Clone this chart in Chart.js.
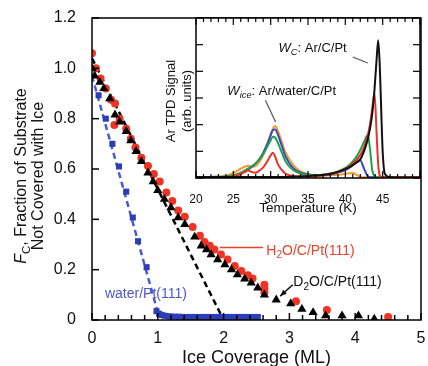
<!DOCTYPE html>
<html>
<head>
<meta charset="utf-8">
<script src="https://cdn.jsdelivr.net/npm/chart.js@4.4.1/dist/chart.umd.min.js"></script>
<style>
  html, body { margin: 0; padding: 0; background: #fff; }
  #wrap { position: relative; width: 428px; height: 366px; }
  #mainChart { position: absolute; left: 0; top: 0; }
  #insetChart { position: absolute; left: 140px; top: 0; }
</style>
</head>
<body>
<div id="wrap">
  <canvas id="mainChart" width="428" height="366"></canvas>
  <canvas id="insetChart" width="288" height="220"></canvas>
</div>
<script>
const FONT = "'Liberation Sans', Arial, sans-serif";

// main plot: fraction of substrate not covered vs ice coverage (ML)
const covH2O = [0, 0.06, 0.13, 0.21, 0.29, 0.35, 0.34, 0.42, 0.52, 0.59, 0.66, 0.75, 0.85, 0.94, 1.03, 1.13, 1.22, 1.31, 1.41, 1.53, 1.64, 1.71, 1.79, 1.86, 1.96, 2.06, 2.17, 2.27, 2.37, 2.44, 2.62, 2.62, 2.62, 3.1, 3.57, 4.5];
const fracH2O = [1.06, 1.0, 0.96, 0.92, 0.875, 0.86, 0.775, 0.8, 0.76, 0.72, 0.685, 0.645, 0.612, 0.58, 0.55, 0.507, 0.473, 0.435, 0.41, 0.37, 0.335, 0.31, 0.295, 0.28, 0.26, 0.24, 0.215, 0.195, 0.178, 0.165, 0.14, 0.125, 0.11, 0.075, 0.04, 0.012];

const covD2O = [0, 0.04, 0.12, 0.18, 0.27, 0.35, 0.42, 0.52, 0.59, 0.67, 0.75, 0.85, 0.93, 1.0, 1.1, 1.2, 1.31, 1.41, 1.56, 1.66, 1.74, 1.81, 1.91, 2.02, 2.12, 2.21, 2.32, 2.42, 2.52, 2.62, 2.8, 3.02, 3.19, 3.36, 3.55, 3.8, 4.05, 4.29];
const fracD2O = [1.0, 0.97, 0.945, 0.92, 0.88, 0.815, 0.787, 0.75, 0.713, 0.67, 0.63, 0.585, 0.55, 0.515, 0.48, 0.447, 0.407, 0.38, 0.33, 0.295, 0.28, 0.26, 0.24, 0.22, 0.2, 0.18, 0.164, 0.148, 0.128, 0.1, 0.08, 0.065, 0.043, 0.03, 0.017, 0.017, 0.017, 0.004];

const covWater = [0.1, 0.21, 0.31, 0.41, 0.52, 0.62, 0.7, 0.83, 0.98, 1.02, 1.06, 1.1, 1.15, 1.2, 1.26, 1.32, 1.38, 1.44, 1.5, 1.56, 1.62, 1.68, 1.74, 1.8, 1.86, 1.92, 1.98, 2.04, 2.1, 2.16, 2.22, 2.28, 2.34, 2.4, 2.46, 2.52];
const fracWater = [0.893, 0.8, 0.7, 0.61, 0.51, 0.407, 0.313, 0.21, 0.035, 0.025, 0.02, 0.017, 0.015, 0.014, 0.013, 0.013, 0.012, 0.012, 0.012, 0.012, 0.012, 0.012, 0.012, 0.012, 0.012, 0.012, 0.012, 0.012, 0.012, 0.012, 0.012, 0.012, 0.012, 0.012, 0.012, 0.012];

// dashed guide lines
const fitD2OX = [0, 2.0];
const fitD2OY = [1.04, 0];
const fitWaterX = [0, 1.0];
const fitWaterY = [0.97, 0.03];

const xTicksMain = [0, 1, 2, 3, 4, 5];

// inset: Ar TPD spectra
const tempK = [20, 22, 24, 25, 26, 26.5, 27, 27.5, 28, 28.5, 29, 29.5, 30, 30.3, 30.6, 31, 31.5, 32, 33, 34, 35, 36, 37, 38, 39, 40, 40.5, 41, 41.5, 42, 42.5, 43, 43.3, 43.6, 43.9, 44.2, 44.4, 44.6, 44.8, 45, 45.3, 46, 48, 50];
const tpdBlack = [0.04, 0.04, 0.04, 0.04, 0.04, 0.04, 0.04, 0.04, 0.04, 0.04, 0.04, 0.04, 0.04, 0.04, 0.04, 0.04, 0.04, 0.04, 0.05, 0.06, 0.07, 0.09, 0.12, 0.16, 0.23, 0.33, 0.4, 0.48, 0.58, 0.7, 1.0, 1.45, 1.85, 2.4, 3.3, 4.5, 5.17, 4.3, 2.6, 1.0, 0.15, 0.03, 0.02, 0.02];
const tpdRed = [0.03, 0.03, 0.04, 0.06, 0.15, 0.22, 0.28, 0.22, 0.2, 0.28, 0.4, 0.6, 0.85, 0.95, 0.8, 0.5, 0.3, 0.16, 0.08, 0.06, 0.06, 0.07, 0.1, 0.15, 0.22, 0.34, 0.43, 0.54, 0.68, 0.86, 1.15, 1.6, 2.0, 2.6, 3.19, 1.6, 0.5, 0.1, 0.04, 0.03, 0.03, 0.03, 0.03, 0.03];
const tpdGreen = [0.03, 0.04, 0.06, 0.1, 0.2, 0.28, 0.36, 0.45, 0.55, 0.7, 0.9, 1.15, 1.42, 1.55, 1.52, 1.3, 0.95, 0.62, 0.3, 0.17, 0.12, 0.1, 0.12, 0.17, 0.25, 0.38, 0.48, 0.62, 0.8, 1.05, 1.35, 1.61, 1.1, 0.3, 0.08, 0.04, 0.03, 0.03, 0.03, 0.03, 0.03, 0.03, 0.03, 0.03];
const tpdBlue = [0.03, 0.03, 0.05, 0.08, 0.16, 0.24, 0.32, 0.42, 0.55, 0.72, 0.95, 1.25, 1.6, 1.8, 1.82, 1.6, 1.2, 0.8, 0.38, 0.2, 0.13, 0.1, 0.1, 0.13, 0.2, 0.3, 0.38, 0.48, 0.6, 0.67, 0.35, 0.06, 0.03, 0.03, 0.03, 0.03, 0.03, 0.03, 0.03, 0.03, 0.03, 0.03, 0.03, 0.03];
const tpdOrange = [0.03, 0.04, 0.08, 0.18, 0.35, 0.42, 0.46, 0.42, 0.45, 0.6, 0.85, 1.2, 1.65, 1.85, 1.95, 1.75, 1.35, 0.95, 0.5, 0.25, 0.15, 0.1, 0.09, 0.1, 0.12, 0.15, 0.18, 0.19, 0.12, 0.04, 0.03, 0.03, 0.03, 0.03, 0.03, 0.03, 0.03, 0.03, 0.03, 0.03, 0.03, 0.03, 0.03, 0.03];

const pts = (xs, ys) => xs.map((x, i) => ({ x: x, y: ys[i] }));

// draws text pieces; style: '' normal, 'i' italic, 's' subscript, 'si' italic subscript
const drawRich = (ctx, x, y, parts, size, color, align) => {
  const fontFor = (st) => (st.includes("i") ? "italic " : "") + (st.includes("s") ? size * 0.72 : size) + "px " + FONT;
  let total = 0;
  parts.forEach(([t, st]) => { ctx.font = fontFor(st); total += ctx.measureText(t).width; });
  let cx = align === "center" ? x - total / 2 : x;
  ctx.fillStyle = color;
  ctx.textBaseline = "alphabetic";
  ctx.textAlign = "left";
  const base = y + size * 0.36;
  parts.forEach(([t, st]) => {
    ctx.font = fontFor(st);
    ctx.fillText(t, cx, st.includes("s") ? base + size * 0.28 : base);
    cx += ctx.measureText(t).width;
  });
};

const line = (ctx, x1, y1, x2, y2) => {
  ctx.beginPath();
  ctx.moveTo(x1, y1);
  ctx.lineTo(x2, y2);
  ctx.stroke();
};

const mainDecor = {
  id: "mainDecor",
  afterDraw(chart) {
    const { ctx, chartArea: a, scales: { x, y } } = chart;
    ctx.save();
    ctx.strokeStyle = "#000";
    ctx.lineWidth = 1.5;
    ctx.strokeRect(a.left, a.top, a.right - a.left, a.bottom - a.top);
    // inward ticks
    for (let i = 0; i <= 25; i++) {
      const px = x.getPixelForValue(i * 0.2);
      line(ctx, px, a.bottom, px, a.bottom - (i % 5 === 0 ? 7 : 5));
    }
    for (let i = 0; i <= 6; i++) {
      const py = y.getPixelForValue(i * 0.2);
      line(ctx, a.left, py, a.left + 7, py);
    }

    // annotations
    ctx.strokeStyle = "#e8402c";
    ctx.lineWidth = 1.5;
    line(ctx, x.getPixelForValue(1.94), y.getPixelForValue(0.288), x.getPixelForValue(2.6), y.getPixelForValue(0.288));
    drawRich(ctx, x.getPixelForValue(2.65), y.getPixelForValue(0.28),
      [["H", ""], ["2", "s"], ["O/C/Pt(111)", ""]], 14, "#e8402c");

    drawRich(ctx, x.getPixelForValue(3.06), y.getPixelForValue(0.156),
      [["D", ""], ["2", "s"], ["O/C/Pt(111)", ""]], 14, "#111");
    // arrow to D2O point
    const ax1 = x.getPixelForValue(3.05), ay1 = y.getPixelForValue(0.14);
    const ax2 = x.getPixelForValue(2.86), ay2 = y.getPixelForValue(0.095);
    ctx.strokeStyle = "#111";
    line(ctx, ax1, ay1, ax2, ay2);
    const ang = Math.atan2(ay2 - ay1, ax2 - ax1);
    ctx.fillStyle = "#111";
    ctx.beginPath();
    ctx.moveTo(ax2, ay2);
    ctx.lineTo(ax2 - 7 * Math.cos(ang - 0.4), ay2 - 7 * Math.sin(ang - 0.4));
    ctx.lineTo(ax2 - 7 * Math.cos(ang + 0.4), ay2 - 7 * Math.sin(ang + 0.4));
    ctx.closePath();
    ctx.fill();

    drawRich(ctx, x.getPixelForValue(0.197), y.getPixelForValue(0.108),
      [["water/Pt(111)", ""]], 14, "#5058c8");

    // axis titles
    drawRich(ctx, (a.left + a.right) / 2, 357, [["Ice Coverage (ML)", ""]], 18, "#111", "center");
    ctx.translate(20, 176);
    ctx.rotate(-Math.PI / 2);
    drawRich(ctx, 0, 0, [["F", "i"], ["C", "s"], [", Fraction of Substrate", ""]], 16, "#111", "center");
    drawRich(ctx, 0, 17, [["Not Covered with Ice", ""]], 16, "#111", "center");
    ctx.restore();
  },
};

new Chart(document.getElementById("mainChart"), {
  type: "scatter",
  data: {
    datasets: [
      { label: "D2O/C/Pt(111)", data: pts(covD2O, fracD2O), pointStyle: "triangle", pointRadius: 5.3, backgroundColor: "#000", borderColor: "#000", borderWidth: 0 },
      { label: "H2O/C/Pt(111)", data: pts(covH2O, fracH2O), pointStyle: "circle", pointRadius: 4, backgroundColor: "#ee3424", borderWidth: 0 },
      { label: "water/Pt(111)", data: pts(covWater, fracWater), pointStyle: "rect", pointRadius: 4.3, backgroundColor: "#2d3db8", borderWidth: 0 },
      { label: "D2O fit", data: pts(fitD2OX, fitD2OY), showLine: true, pointRadius: 0, borderColor: "#000", borderWidth: 2.5, borderDash: [6, 4] },
      { label: "water fit", data: pts(fitWaterX, fitWaterY), showLine: true, pointRadius: 0, borderColor: "#4a5ad0", borderWidth: 2.5, borderDash: [6, 4] },
    ],
  },
  options: {
    responsive: false,
    animation: false,
    devicePixelRatio: 1,
    layout: { padding: { left: 0, right: 7, top: 18, bottom: 0 } },
    plugins: { legend: { display: false }, tooltip: { enabled: false } },
    scales: {
      x: {
        type: "linear", min: 0, max: 5,
        afterBuildTicks: (s) => { s.ticks = xTicksMain.map((v) => ({ value: v })); },
        ticks: { font: { size: 16, family: FONT }, color: "#111", padding: 1, maxRotation: 0 },
        grid: { display: false }, border: { display: false },
        afterFit: (s) => { s.height = 46; },
      },
      y: {
        min: 0, max: 1.2,
        ticks: { stepSize: 0.2, font: { size: 16, family: FONT }, color: "#111", padding: 8 },
        grid: { display: false }, border: { display: false },
        afterFit: (s) => { s.width = 92; },
      },
    },
  },
  plugins: [mainDecor],
});

const insetDecor = {
  id: "insetDecor",
  beforeDraw(chart) {
    const { ctx, chartArea: a } = chart;
    ctx.save();
    ctx.fillStyle = "#fff";
    ctx.fillRect(a.left, a.top, a.right - a.left, a.bottom - a.top);
    ctx.restore();
  },
  afterDraw(chart) {
    const { ctx, chartArea: a, scales: { x, y } } = chart;
    ctx.save();
    ctx.strokeStyle = "#000";
    ctx.lineWidth = 1.5;
    ctx.strokeRect(a.left, a.top, a.right - a.left, a.bottom - a.top);
    ctx.lineWidth = 1.2;
    for (let t = 20; t <= 50; t++) {
      const px = x.getPixelForValue(t);
      const len = t % 5 === 0 ? 7 : 4;
      line(ctx, px, a.bottom, px, a.bottom - len);
      line(ctx, px, a.top, px, a.top + len);
    }
    for (let v = 0; v <= 6; v++) {
      const py = y.getPixelForValue(v);
      line(ctx, a.left, py, a.left + 7, py);
      line(ctx, a.right, py, a.right - 7, py);
    }

    // peak labels
    drawRich(ctx, x.getPixelForValue(31.06), y.getPixelForValue(4.91),
      [["W", "i"], ["C", "si"], [": Ar/C/Pt", ""]], 13, "#111");
    ctx.strokeStyle = "#555";
    ctx.lineWidth = 1.2;
    line(ctx, x.getPixelForValue(41.0), y.getPixelForValue(4.54), x.getPixelForValue(43.0), y.getPixelForValue(4.31));
    drawRich(ctx, x.getPixelForValue(24.2), y.getPixelForValue(3.3),
      [["W", "i"], ["ice", "si"], [": Ar/water/C/Pt", ""]], 13, "#111");
    line(ctx, x.getPixelForValue(29.3), y.getPixelForValue(2.92), x.getPixelForValue(30.66), y.getPixelForValue(2.1));

    // axis titles
    drawRich(ctx, (a.left + a.right) / 2, 207, [["Temperature (K)", ""]], 13.5, "#111", "center");
    ctx.translate(30, 101);
    ctx.rotate(-Math.PI / 2);
    drawRich(ctx, 0, 0, [["Ar TPD Signal", ""]], 13, "#111", "center");
    drawRich(ctx, 0, 16, [["(arb. units)", ""]], 13, "#111", "center");
    ctx.restore();
  },
};

const tpdLine = (label, ys, color) => ({
  label: label, data: pts(tempK, ys), showLine: true, pointRadius: 0,
  borderColor: color, borderWidth: 2, cubicInterpolationMode: "monotone",
});

new Chart(document.getElementById("insetChart"), {
  type: "scatter",
  data: {
    datasets: [
      tpdLine("Ar/C/Pt", tpdBlack, "#111"),
      tpdLine("red", tpdRed, "#e8322a"),
      tpdLine("green", tpdGreen, "#23a04a"),
      tpdLine("blue", tpdBlue, "#3347c8"),
      tpdLine("orange", tpdOrange, "#f59a2a"),
    ],
  },
  options: {
    responsive: false,
    animation: false,
    devicePixelRatio: 1,
    layout: { padding: { left: 0, right: 8, top: 18, bottom: 0 } },
    plugins: { legend: { display: false }, tooltip: { enabled: false } },
    scales: {
      x: {
        type: "linear", min: 20, max: 50,
        ticks: { stepSize: 5, font: { size: 12, family: FONT }, color: "#111", padding: 6, maxRotation: 0,
          callback: (v) => (v === 50 ? "" : v) },
        grid: { display: false }, border: { display: false },
        afterFit: (s) => { s.height = 42; },
      },
      y: {
        min: 0, max: 6,
        ticks: { display: false },
        grid: { display: false }, border: { display: false },
        afterFit: (s) => { s.width = 56; },
      },
    },
  },
  plugins: [insetDecor],
});
</script>
</body>
</html>
